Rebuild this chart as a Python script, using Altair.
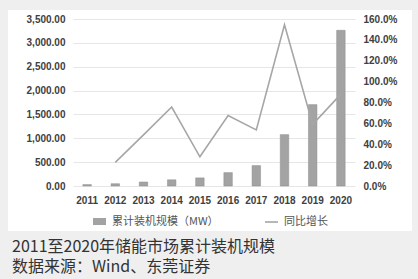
import altair as alt
import pandas as pd

years = ["2011", "2012", "2013", "2014", "2015", "2016", "2017", "2018", "2019", "2020"]
capacity_mw = [30, 48, 84, 130, 170, 281, 428, 1077, 1706, 3263]
yoy_growth = [None, 0.226, 0.49, 0.757, 0.28, 0.676, 0.538, 1.545, 0.59, 0.88]
left_ticks = [0, 500, 1000, 1500, 2000, 2500, 3000, 3500]
right_ticks = [0, 0.2, 0.4, 0.6, 0.8, 1.0, 1.2, 1.4, 1.6]
legend_labels = ["累计装机规模（MW）", "同比增长"]
caption_lines = ["2011至2020年储能市场累计装机规模", "数据来源：Wind、东莞证券"]

df = pd.DataFrame({"year": years, "mw": capacity_mw, "pct": yoy_growth})
one = pd.DataFrame({"k": [0]})

W, H = 282, 167
BG = "#efefef"
BAR = "#a3a3a3"
LINE = "#a6a6a6"

x_enc = alt.X("year:N", sort=years, scale=alt.Scale(paddingInner=0, paddingOuter=0),
              axis=alt.Axis(title=None, labelAngle=0, domain=False, ticks=False,
                            labelPadding=9, labelFont="Liberation Sans", labelFontWeight="bold",
                            labelFontSize=10, labelColor="#404040"))

bars = alt.Chart(df).mark_bar(color=BAR, size=8.5, stroke="#8f8f8f", strokeWidth=0.5).encode(
    x=x_enc,
    y=alt.Y("mw:Q", scale=alt.Scale(domain=[0, 3500], nice=False),
            axis=alt.Axis(title=None, values=left_ticks, format=",.2f", orient="left",
                          domain=False, ticks=False, labelPadding=8, grid=True,
                          gridColor="#e6e6e6", gridWidth=1,
                          labelFont="Liberation Sans", labelFontWeight="bold",
                          labelFontSize=10, labelColor="#404040")),
)

line = alt.Chart(df).transform_filter("datum.pct != null").mark_line(color=LINE, strokeWidth=1.6).encode(
    x=alt.X("year:N", sort=years),
    y=alt.Y("pct:Q", scale=alt.Scale(domain=[0, 1.6], nice=False),
            axis=alt.Axis(title=None, values=right_ticks, format=".1%", orient="right",
                          domain=False, ticks=False, labelPadding=8, grid=False,
                          labelFont="Liberation Sans", labelFontWeight="bold",
                          labelFontSize=10, labelColor="#404040")),
)

def strip(x1, x2, y1, y2):
    return alt.Chart(one).mark_rect(color=BG).encode(
        x=alt.value(x1), x2=alt.value(x2), y=alt.value(y1), y2=alt.value(y2))

strips = [
    strip(-73, -65, -19, 260),
    strip(-73, 345, -19, -9),
    strip(339, 345, -19, 260),
    strip(-73, 345, 212, 260),
]

leg_sq = alt.Chart(one).mark_rect(color=BAR).encode(
    x=alt.value(20), x2=alt.value(33), y=alt.value(199), y2=alt.value(206))
leg_ln = alt.Chart(one).mark_rule(color=LINE, strokeWidth=1.6).encode(
    x=alt.value(192), x2=alt.value(205), y=alt.value(203))
leg_t1 = alt.Chart(one).mark_text(text=legend_labels[0], align="left", baseline="middle",
                                  font="Noto Sans CJK SC", fontSize=11, color="#555555").encode(
    x=alt.value(39), y=alt.value(203))
leg_t2 = alt.Chart(one).mark_text(text=legend_labels[1], align="left", baseline="middle",
                                  font="Noto Sans CJK SC", fontSize=11, color="#555555").encode(
    x=alt.value(211), y=alt.value(203))

cap1 = alt.Chart(one).mark_text(text=caption_lines[0], align="left", baseline="alphabetic",
                                font="Noto Sans CJK SC", fontSize=16, color="#333333").encode(
    x=alt.value(-61), y=alt.value(233))
cap2 = alt.Chart(one).mark_text(text=caption_lines[1], align="left", baseline="alphabetic",
                                font="Noto Sans CJK SC", fontSize=16, color="#333333").encode(
    x=alt.value(-61), y=alt.value(252.5))

chart = alt.layer(
    bars, line, *strips, leg_sq, leg_ln, leg_t1, leg_t2, cap1, cap2
).resolve_scale(y="independent").properties(
    width=W, height=H,
    autosize=alt.AutoSizeParams(type="none"),
    padding={"left": 73, "top": 19, "right": 63, "bottom": 93},
    background="white",
).configure_view(stroke=None)

chart.save("out.html", embed_options={"renderer": "svg", "actions": False})
